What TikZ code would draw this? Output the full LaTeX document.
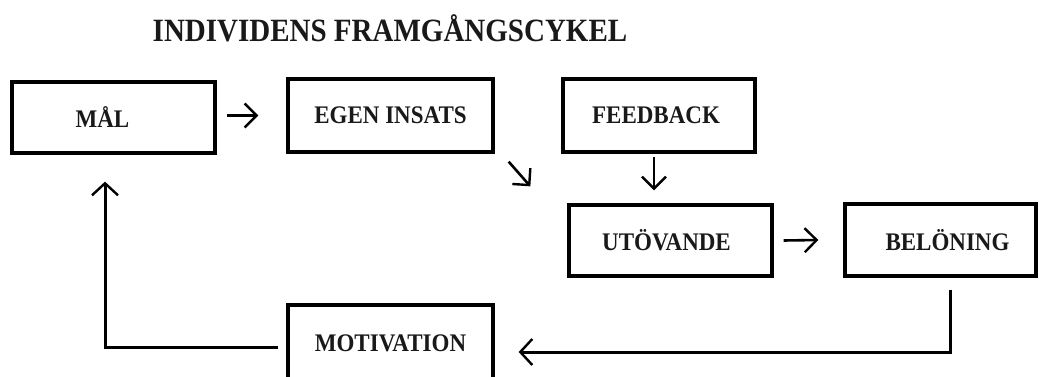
\documentclass[tikz,border=0pt]{standalone}
\usepackage{fontspec}
\usepackage{graphicx}
\setmainfont{Liberation Serif}
\usetikzlibrary{arrows.meta}
\newcommand{\boxtxt}[1]{\scalebox{1}[1.1]{\fontsize{23}{26}\selectfont\bfseries #1}}
\tikzset{
  stepbox/.style={draw=black, line width=3.3pt, rectangle, inner sep=0pt, text=black!90},
  arr/.style={line width=2.6pt, draw=black, -{Straight Barb[length=12pt,width=24pt,line width=2.4pt]}},
  link/.style={line width=3pt, draw=black, -{Straight Barb[length=12pt,width=26pt,line width=2.4pt]}}
}
\begin{document}
\begin{tikzpicture}[x=1pt,y=-1pt]
\useasboundingbox[fill=white] (0,0) rectangle (1039,377);
\node[text=black!90] (title) at (390,28) {\scalebox{1}[1.12]{\fontsize{29}{32}\selectfont\bfseries INDIVIDENS FRAMGÅNGSCYKEL}};
\node[stepbox, minimum width=203pt, minimum height=71pt] (mal) at (113.5,117.5) {\raisebox{-7pt}{\hspace{-22pt}\boxtxt{MÅL}}};
\node[stepbox, minimum width=205pt, minimum height=73pt] (egen) at (390.5,115.5) {\raisebox{-3pt}{\boxtxt{EGEN INSATS}}};
\node[stepbox, minimum width=192pt, minimum height=73pt] (feed) at (659,115.5) {\raisebox{-4pt}{\hspace{-6pt}\boxtxt{FEEDBACK}}};
\node[stepbox, minimum width=203pt, minimum height=71pt] (utov) at (670.5,240.5) {\raisebox{-1pt}{\hspace{-8pt}\boxtxt{UTÖVANDE}}};
\node[stepbox, minimum width=191pt, minimum height=72pt] (belo) at (940.5,240) {\raisebox{-4pt}{\hspace{14pt}\boxtxt{BELÖNING}}};
\node[stepbox, minimum width=205pt, minimum height=76pt] (motiv) at (390.5,343) {\raisebox{-2pt}{\boxtxt{MOTIVATION}}};
% arrows
\draw[arr] ([xshift=10pt]mal.east |- egen.west) -- ([xshift=-28pt]egen.west);
\draw[arr] ([shift={(14pt,-8pt)}]egen.south east) -- ([shift={(-37pt,17pt)}]utov.north west);
\draw[arr] ([shift={(-5pt,-3pt)}]feed.south) -- ([shift={(-16.5pt,13pt)}]utov.north);
\draw[arr] ([xshift=10pt]utov.east) -- ([xshift=-25pt]belo.west);
\coordinate (bstart) at ([shift={(9.5pt,-12pt)}]belo.south);
\coordinate (mend) at ([shift={(24pt,-9pt)}]motiv.east);
\draw[link] (bstart) |- (mend);
\coordinate (mstart) at ([shift={(-8pt,-4pt)}]motiv.west);
\coordinate (malend) at ([shift={(-8.5pt,-27pt)}]mal.south);
\draw[link] (mstart) -| (malend);
\end{tikzpicture}
\end{document}
